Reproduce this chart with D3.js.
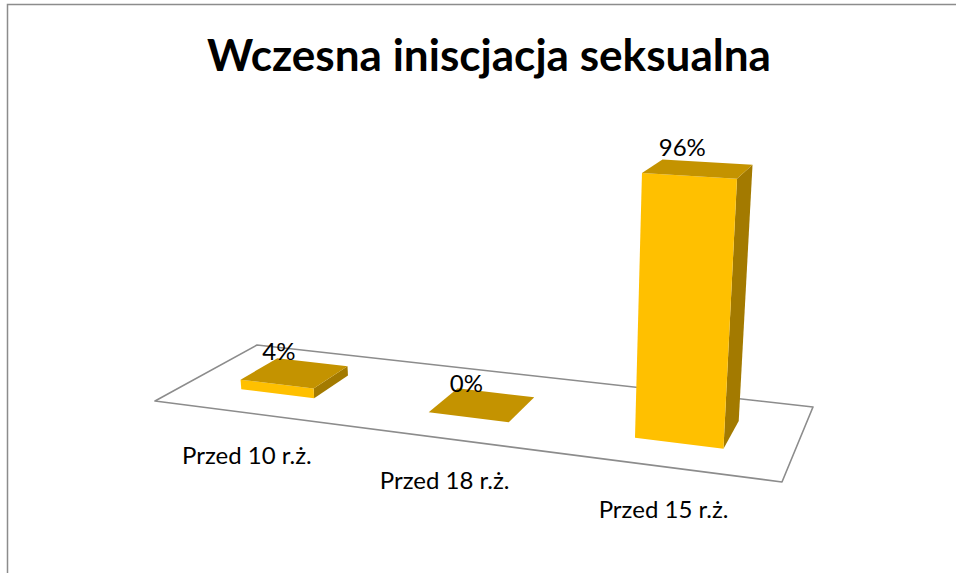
<!DOCTYPE html>
<html>
<head>
<meta charset="utf-8">
<script src="https://cdn.jsdelivr.net/npm/d3@7"></script>
<style>
  html, body { margin: 0; padding: 0; background: #fff; }
  svg { display: block; }
</style>
</head>
<body>
<script>
// ---- data ----
const title = "Wczesna iniscjacja seksualna";
const categories = ["Przed 10 r.ż.", "Przed 18 r.ż.", "Przed 15 r.ż."];
const values = [4, 0, 96];
const valueDomain = [0, 100];

// ---- layout / camera ----
const W = 956, H = 573;
// perspective camera: floor homography (u along categories, v depth) + vertical column
const cam = { a: 516.5, b: 136.85, c: 155, d: 12.89, e: -9.22, f: 401,
              g: -0.1413, h: 0.1356, qx: -0.343, qy: -2.682, qw: -0.00064 };
function project(u, v, ht) {
  const D = cam.g * u + cam.h * v + 1 + ht * cam.qw;
  return [(cam.a * u + cam.b * v + cam.c + ht * cam.qx) / D,
          (cam.d * u + cam.e * v + cam.f + ht * cam.qy) / D];
}

const xBand = d3.scaleBand().domain(categories).range([0, 1]).paddingInner(0.6).paddingOuter(0.3);
const depth = d3.scaleLinear().domain([0, 1]).range([0.3, 0.68]);
const hScale = d3.scaleLinear().domain(valueDomain).range([0, 100]);

const colFront = "#FFC000", colTop = "#C49300", colSide = "#A37A00";

const svg = d3.select("body").append("svg").attr("width", W).attr("height", H);

// chart frame
svg.append("rect").attr("x", 7.5).attr("y", 4.5).attr("width", 1200).attr("height", 1200)
  .attr("fill", "none").attr("stroke", "#8c8c8c").attr("stroke-width", 1.5);

// title
svg.append("text").text(title)
  .attr("x", 489).attr("y", 71).attr("text-anchor", "middle")
  .attr("font-family", "Lato, 'Open Sans', sans-serif").attr("font-weight", "bold")
  .attr("font-size", 43).attr("fill", "#000")
  .attr("textLength", 564).attr("lengthAdjust", "spacingAndGlyphs");

const line = d3.line();
const poly = pts => line(pts) + "Z";

// floor
const floorPts = [[0, 0], [1, 0], [1, 1], [0, 1]].map(([u, v]) => project(u, v, 0));
svg.append("path").attr("d", poly(floorPts))
  .attr("fill", "#fff").attr("stroke", "#8c8c8c").attr("stroke-width", 1.6)
  .attr("stroke-linejoin", "round");

// bars
const data = categories.map((c, i) => ({ cat: c, val: values[i] }));
const bars = svg.append("g").selectAll("g").data(data).join("g");
bars.each(function (d) {
  const g = d3.select(this);
  const u0 = xBand(d.cat), u1 = u0 + xBand.bandwidth();
  const v0 = depth(0), v1 = depth(1);
  const hh = hScale(d.val);
  if (hh > 0) {
    g.append("path").attr("fill", colSide)
      .attr("d", poly([project(u1, v0, 0), project(u1, v1, 0), project(u1, v1, hh), project(u1, v0, hh)]));
    g.append("path").attr("fill", colFront)
      .attr("d", poly([project(u0, v0, 0), project(u1, v0, 0), project(u1, v0, hh), project(u0, v0, hh)]));
  }
  g.append("path").attr("fill", colTop)
    .attr("d", poly([project(u0, v0, hh), project(u1, v0, hh), project(u1, v1, hh), project(u0, v1, hh)]));
});

// value labels
svg.append("g").selectAll("text").data(data).join("text")
  .attr("x", d => project(xBand(d.cat) + xBand.bandwidth() / 2, depth(0.5), hScale(d.val))[0] - 16)
  .attr("y", d => project(xBand(d.cat) + xBand.bandwidth() / 2, depth(0.5), hScale(d.val))[1] - 13)
  .attr("text-anchor", "middle")
  .attr("font-family", "Lato, 'Open Sans', sans-serif").attr("font-size", 24).attr("fill", "#000")
  .text(d => d.val + "%");

// category labels
svg.append("g").selectAll("text").data(categories).join("text")
  .attr("x", c => project(xBand(c) + xBand.bandwidth() / 2, 0, 0)[0])
  .attr("y", c => project(xBand(c) + xBand.bandwidth() / 2, 0, 0)[1] + 51)
  .attr("text-anchor", "middle")
  .attr("font-family", "Lato, 'Open Sans', sans-serif").attr("font-size", 24).attr("fill", "#000")
  .text(c => c);
</script>
</body>
</html>
